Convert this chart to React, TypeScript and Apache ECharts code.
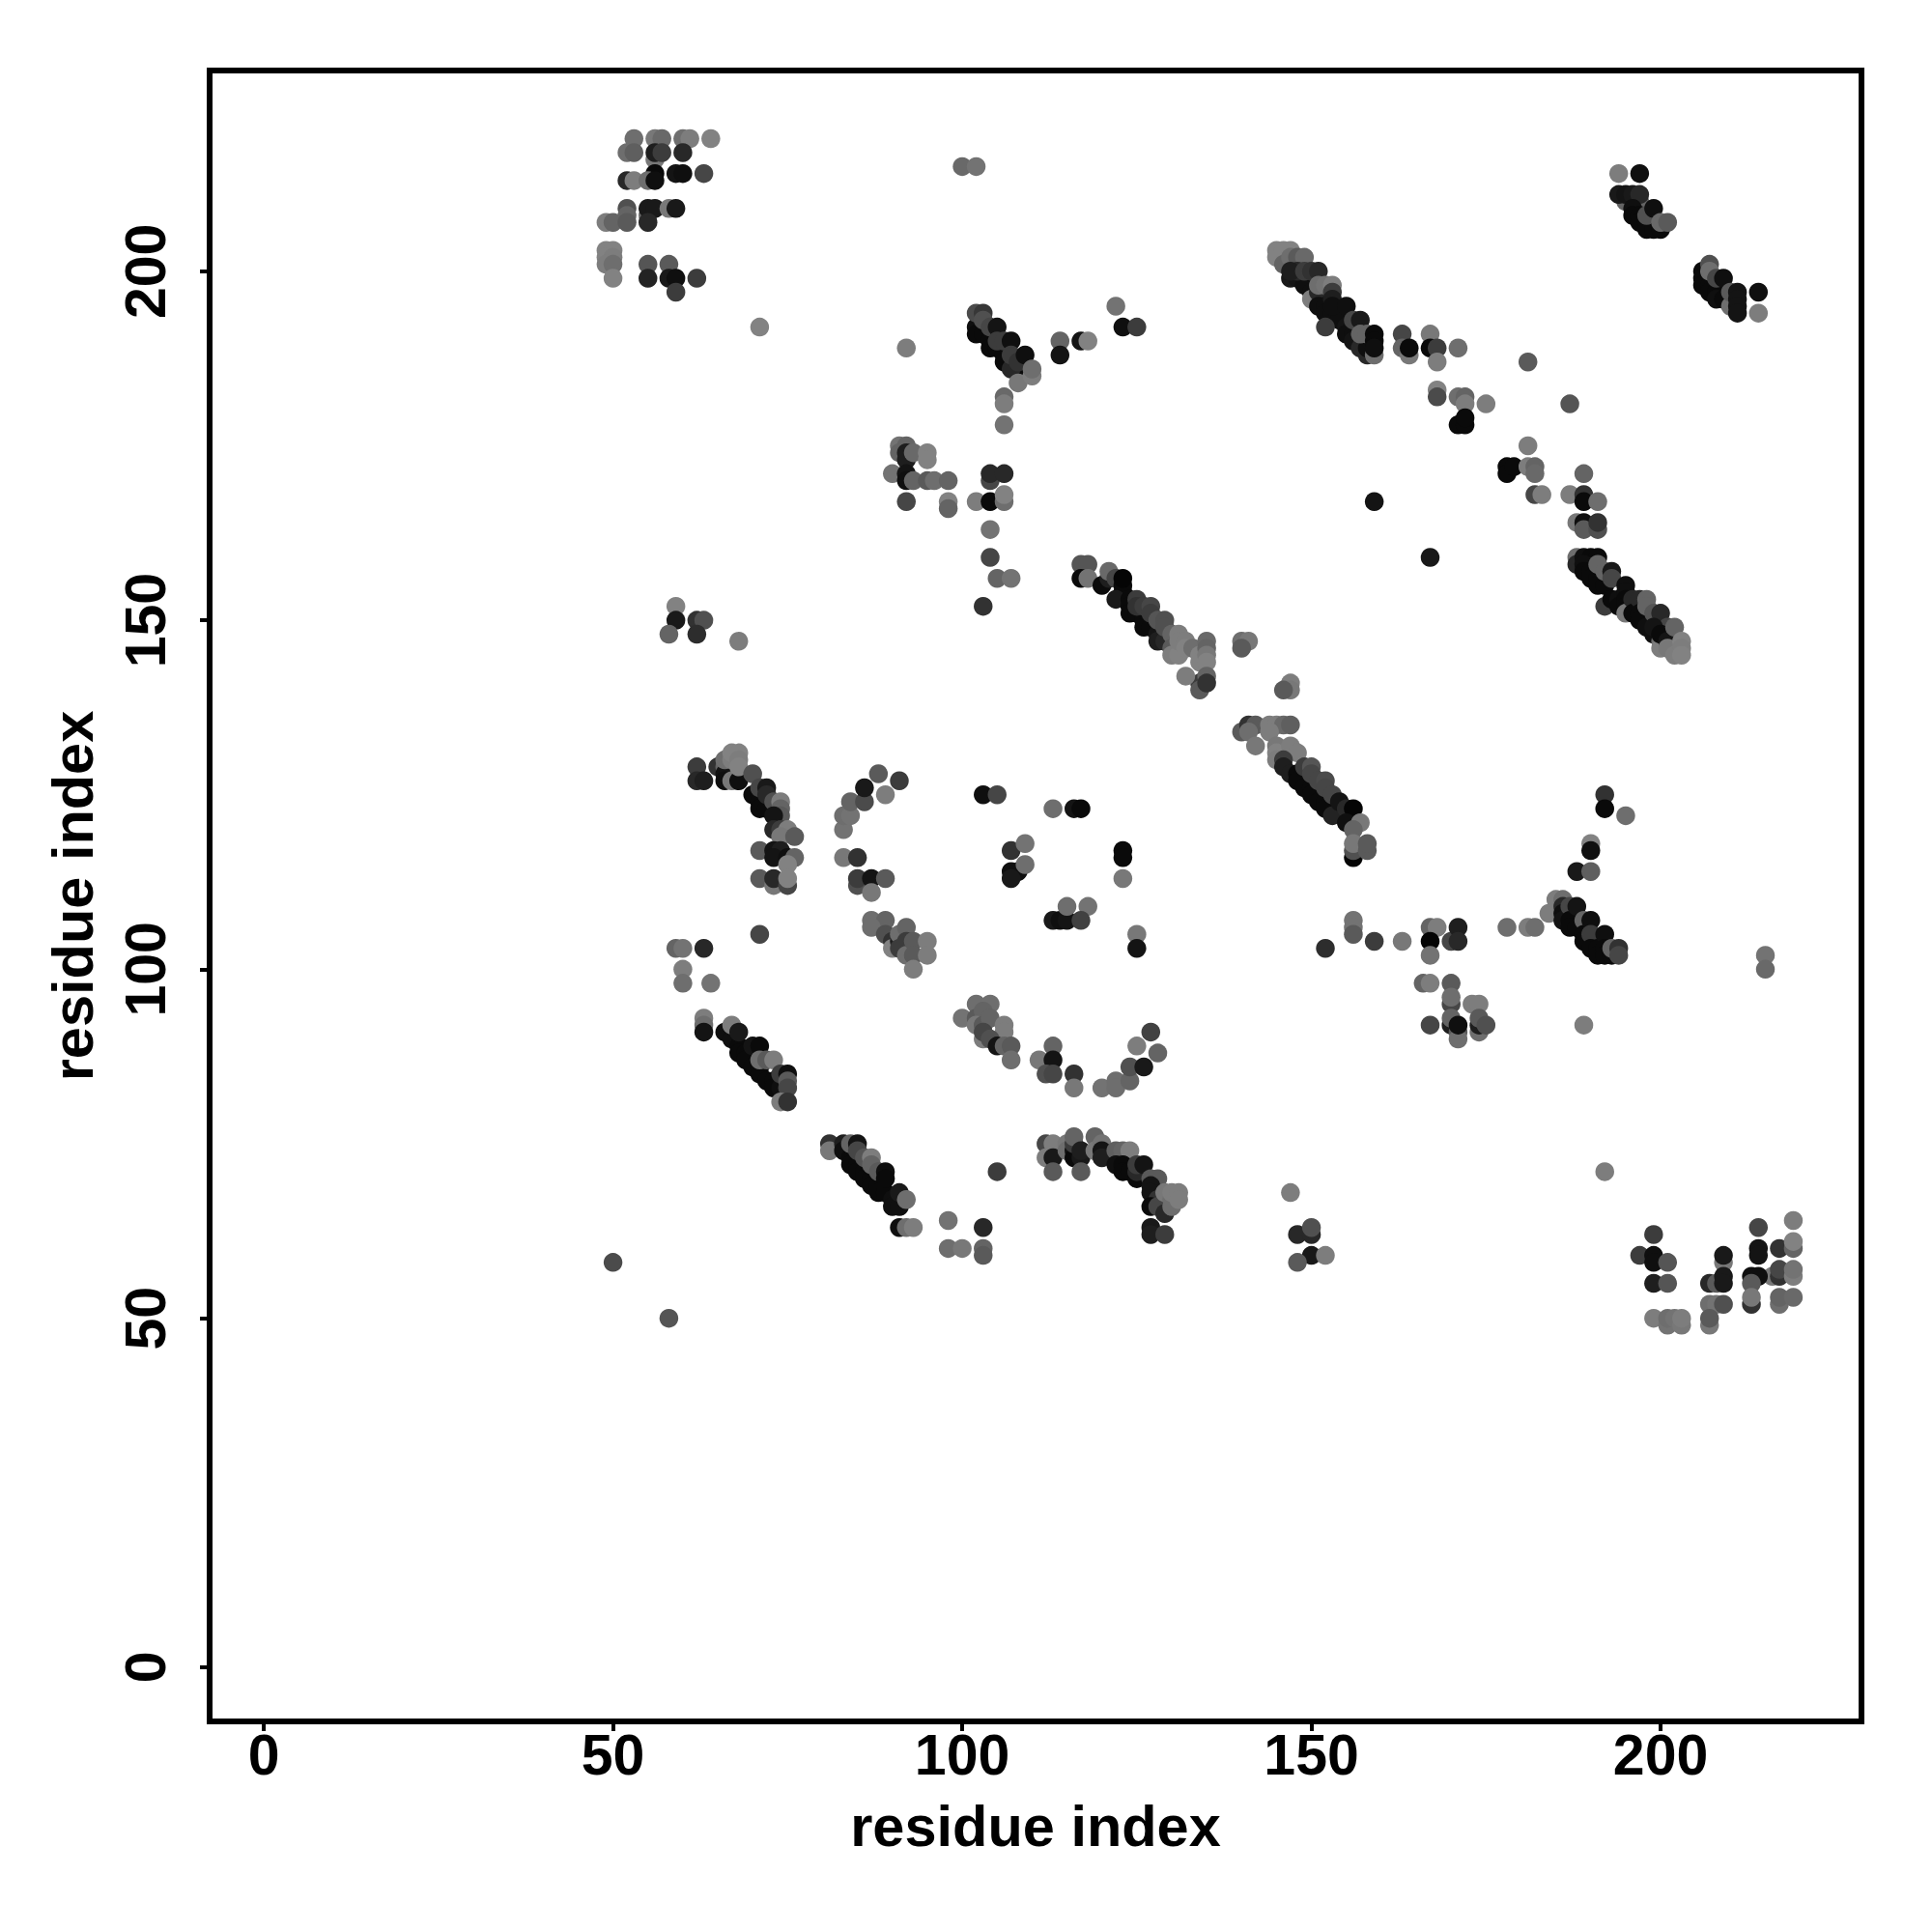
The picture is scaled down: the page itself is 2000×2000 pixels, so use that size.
import React, { useEffect, useRef } from "react";
import * as echarts from "echarts";

type P = [number, number, number]; // residue i, residue j, grey level

const tickValues = [0, 50, 100, 150, 200];
const axisTitle = "residue index";

const topLeft: P[] = [
  [53,219,110],[56,219,120],[57,219,105],[60,219,110],[61,219,125],[64,219,130],
  [52,217,110],[53,217,95],[56,216,120],[56,217,30],[57,217,60],[60,217,40],
  [56,214,10],[59,214,20],[60,214,15],[63,214,70],[52,213,40],[53,213,125],[55,213,110],[56,213,15],
  [52,209,80],[52,208,100],[55,208,110],[55,209,25],[56,209,25],[58,209,120],[59,209,25],
  [49,207,125],[50,207,100],[52,207,90],[55,207,40],[49,203,130],[50,203,130],[49,202,130],[50,202,125],
  [49,201,125],[50,201,110],[55,201,85],[58,201,90],[50,199,130],[55,199,35],[58,199,25],[59,199,15],[62,199,60],[59,197,60],
  [71,192,130],[92,189,125],
];
const block100x190: P[] = [
  [100,215,105],[102,215,115],
  [102,192,15],[102,191,10],[103,191,10],[104,190,10],[104,189,10],[105,189,10],[106,188,10],[106,187,10],[107,187,10],[108,186,10],[107,186,40],
  [102,194,75],[103,194,55],[103,193,80],[104,192,70],[105,192,20],[105,190,60],[106,190,60],[107,190,15],[107,188,60],[108,187,50],[109,188,15],
  [108,184,120],[110,185,125],[110,186,110],
  [106,182,105],[106,181,125],[106,178,115],[114,190,100],[114,188,20],[117,190,20],[118,190,130],[122,195,115],[123,192,15],[125,192,60],
];
const block95x170: P[] = [
  [91,175,115],[92,175,100],[91,174,100],[92,174,30],[92,173,30],[93,174,105],[95,174,130],[95,173,130],
  [90,171,115],[92,171,20],[92,170,15],[93,170,100],[95,170,90],[96,170,110],[98,170,100],
  [92,167,70],[98,167,130],[98,166,100],[102,167,125],[104,167,10],[106,167,110],[106,168,130],
  [104,170,70],[104,171,40],[106,171,40],
  [104,163,115],[104,159,70],[105,156,100],[107,156,115],[103,152,50],
];
const band145: P[] = [
  [147,199,25],[148,199,20],[149,198,15],[150,197,15],[150,196,125],[151,197,40],[151,195,15],[152,195,15],[152,194,15],[153,194,15],[154,193,15],[155,192,20],[155,191,15],[156,191,15],[156,190,20],[157,189,40],[158,188,40],[158,189,15],
  [145,203,130],[145,202,130],[146,203,130],[147,203,130],[146,201,100],[147,202,110],[148,202,90],[149,202,105],
  [148,200,40],[147,200,30],[149,200,60],[150,200,50],[151,200,40],[151,198,110],[152,198,115],[153,198,125],[153,197,60],[153,196,30],[153,195,15],[155,195,15],
  [152,192,60],[156,193,70],[157,193,25],[157,191,100],[158,191,100],[159,188,110],[159,191,10],[159,190,10],[159,189,15],
  [163,191,70],[163,189,100],[164,188,120],[164,189,10],[167,191,120],[167,189,10],[168,189,60],[168,187,125],[171,189,110],
  [168,183,130],[168,182,75],[171,182,110],[172,182,100],[172,181,125],[175,181,125],[171,178,10],[172,178,10],[172,179,10],[159,167,20],
];
const scatter180: P[] = [
  [178,172,10],[178,171,10],[179,172,10],[181,187,90],[187,181,85],[181,175,125],[181,172,125],[182,172,100],[182,171,105],
  [182,168,70],[183,168,125],[187,168,125],[189,171,100],[189,168,50],[189,167,10],[191,167,110],
];
const bandTopRight: P[] = [
  [194,214,125],[197,214,15],[195,210,100],[197,210,100],[194,211,25],[195,211,20],[196,211,25],[197,211,40],
  [196,209,15],[196,208,10],[197,208,10],[197,207,10],[198,207,10],[198,206,10],[199,206,10],[200,206,10],[198,208,80],[199,209,15],[200,207,105],[201,207,90],
  [206,200,10],[206,199,10],[206,198,10],[207,198,10],[207,197,10],[208,197,10],[208,196,15],[209,196,10],[210,195,110],[207,201,80],[207,200,110],[208,199,70],[209,199,15],[210,197,90],
  [211,197,20],[211,196,20],[211,195,20],[211,194,20],[214,197,15],[214,194,125],
];
const block60x150: P[] = [
  [59,152,130],[59,150,25],[62,150,50],[63,150,80],[58,148,100],[62,148,45],[68,147,125],
];
const arc70x125: P[] = [
  [62,129,60],[62,127,40],[63,127,30],[65,129,50],[66,129,100],[66,128,20],[66,127,15],[67,127,120],[68,127,15],
  [66,130,110],[67,130,125],[67,131,130],[68,131,130],[68,130,125],[68,129,130],[70,128,80],
  [70,125,10],[71,125,10],[71,124,10],[71,123,10],[72,123,10],[71,126,70],[72,126,25],[72,125,40],[73,124,80],[74,124,125],[74,123,100],[74,122,90],[73,122,20],
  [73,120,40],[74,120,60],[75,120,125],[74,119,120],[76,119,90],
  [71,117,90],[73,117,20],[74,117,30],[73,116,20],[75,116,15],[76,116,100],[75,115,130],[71,113,90],[73,112,120],[73,113,40],[75,112,70],[75,113,130],
];
const arc85x120: P[] = [
  [83,120,115],[83,122,110],[84,122,115],[84,124,100],[86,124,75],[86,126,25],[88,128,90],[89,125,125],[91,127,60],
  [83,116,120],[85,116,50],[85,112,80],[85,113,60],[87,113,20],[87,111,120],[89,113,90],
];
const band90x105: P[] = [
  [87,107,110],[89,107,100],[87,106,110],[89,105,80],[90,104,50],[90,103,130],[91,104,30],[91,105,110],[91,103,60],[92,106,100],[92,104,60],[92,102,110],[93,104,90],[93,102,90],[95,104,125],[95,102,125],[93,100,125],
];
const center: P[] = [
  [103,125,15],[105,125,70],[107,117,50],[109,118,115],[107,114,15],[108,114,15],[107,113,25],[109,115,110],
  [113,123,110],[116,123,20],[117,123,10],[113,107,25],[114,107,15],[115,107,20],[115,109,110],[118,109,115],[117,107,65],[123,117,10],[123,116,10],[123,113,120],
  [125,105,120],[125,103,20],
];
const band120x150: P[] = [
  [117,158,85],[118,158,85],[117,156,10],[118,156,115],[120,155,10],[121,156,30],[121,157,105],[122,156,70],[123,155,10],[123,154,10],[122,153,25],[123,156,5],
  [124,153,10],[124,152,10],[124,151,10],[125,151,10],[126,150,10],[126,149,10],[127,149,10],[128,148,20],[128,147,30],[129,147,40],
  [125,153,60],[125,152,50],[126,152,60],[127,152,70],[127,151,60],[128,150,85],[129,150,80],[129,149,80],[130,148,100],[131,148,125],[130,146,90],[130,145,125],[131,145,130],[131,147,125],[132,147,125],[132,146,130],
  [133,146,110],[134,145,130],[134,144,130],[134,141,60],[134,140,90],[132,142,125],
  [135,147,105],[135,146,100],[135,145,120],[135,144,130],[135,142,100],[135,141,50],
  [140,147,110],[141,147,120],[140,146,90],[147,141,125],[147,140,120],[146,140,90],
];
const band145x130: P[] = [
  [140,134,90],[141,135,50],[142,135,90],[141,134,110],[142,132,120],[144,135,125],[145,135,125],[146,135,105],[147,135,95],[144,134,125],
  [145,132,120],[145,131,130],[145,130,125],[147,132,125],[148,131,125],[146,130,60],[146,129,30],[147,128,30],[148,128,10],[148,127,10],[149,126,10],[150,126,10],[150,125,10],[151,124,10],[152,124,10],[152,123,10],[153,122,35],
  [149,129,60],[150,129,85],[150,128,70],[151,127,70],[152,127,75],[152,126,70],[153,125,70],[154,124,20],[155,123,40],[156,123,5],[155,121,15],[157,121,120],[156,120,100],[156,116,5],[156,117,80],[156,118,120],[158,117,90],[158,118,90],
  [156,107,115],[167,159,25],
];
const band190x155: P[] = [
  [188,164,120],[189,164,15],[189,163,90],[191,163,80],[191,164,50],[188,159,110],[188,158,40],[189,159,15],[190,159,10],[191,159,10],[189,158,15],[189,157,10],[190,157,10],[190,156,10],[191,156,10],[191,155,10],[192,155,10],
  [191,158,100],[192,157,100],[193,157,25],[193,156,70],[192,152,60],[193,153,10],[194,153,15],[194,152,10],[195,155,15],[195,154,15],[195,153,10],[195,152,10],[195,151,120],[196,153,40],[196,151,10],[197,153,40],[197,151,10],[197,150,10],[198,149,15],[199,148,15],[198,153,100],[198,152,100],[199,151,85],[200,151,40],
  [200,147,110],[200,146,125],[201,149,70],[199,149,20],[200,148,10],[201,147,20],[201,146,120],[202,149,100],[202,145,125],[203,147,130],[203,146,125],[203,145,130],
  [192,125,50],[192,123,10],[195,122,110],[190,118,130],[190,117,15],[188,114,25],[190,114,95],
];
const band105x90: P[] = [
  [100,93,115],[102,95,110],[104,95,110],[102,93,90],[103,94,100],[102,92,120],[103,92,90],[104,93,100],[106,92,125],[106,91,125],[103,90,125],[103,91,70],[104,90,80],[105,89,20],[106,89,100],[107,89,90],[107,87,110],
  [111,87,120],[113,89,100],[113,87,20],[112,85,80],[113,85,70],[116,85,50],[116,83,120],[120,83,115],[122,84,110],[122,83,110],[124,84,100],[124,86,80],[126,86,25],[125,89,125],[128,88,100],[127,91,65],
];
const band65x90: P[] = [
  [59,103,100],[60,103,115],[63,103,40],[60,100,125],[60,98,110],[64,98,115],[63,93,125],[63,92,110],[63,91,20],[71,105,70],
  [66,91,15],[67,90,15],[68,89,10],[68,88,10],[69,88,10],[69,87,10],[70,86,10],[71,86,10],[71,85,10],[72,84,10],[73,84,10],[73,83,10],[74,83,15],
  [67,92,125],[68,91,25],[70,89,20],[71,89,10],[71,87,110],[72,87,90],[73,87,125],[74,85,60],[75,85,15],[75,84,90],[75,83,70],[74,81,125],[75,81,50],[50,58,75],[58,50,85],
];
const band85x70: P[] = [
  [81,75,50],[81,74,120],[83,75,30],[83,74,15],[84,73,10],[84,72,10],[85,72,10],[85,71,10],[86,71,10],[86,70,10],[87,70,10],[87,69,10],[88,69,10],[88,68,10],[89,68,10],[90,67,15],[90,66,15],[91,66,15],
  [84,75,100],[85,75,20],[85,74,70],[86,73,85],[87,73,125],[87,72,100],[88,71,90],[89,71,15],[89,70,10],[91,68,25],[92,67,110],[91,63,15],[92,63,110],[93,63,125],
  [98,64,115],[103,63,40],[98,60,110],[100,60,120],[103,60,100],[103,59,90],[105,71,60],
];
const band120x70: P[] = [
  [112,75,70],[113,75,125],[112,73,125],[113,73,25],[113,71,90],[115,75,120],[115,74,110],[116,74,20],[116,73,10],[116,75,60],[116,76,100],[117,73,25],[117,74,30],[117,71,90],
  [119,76,100],[119,74,120],[120,75,115],[120,74,20],[120,73,30],[122,74,95],[123,74,100],[124,74,125],[122,72,15],[123,72,10],[123,71,10],[124,71,10],[125,70,10],[125,71,40],[125,72,60],[126,72,20],
  [127,70,90],[128,70,90],[127,69,20],[127,68,20],[128,67,50],[127,66,10],[128,66,70],[129,65,40],[129,68,120],[130,67,110],[130,66,110],[130,68,125],[131,68,125],[131,67,125],
  [127,63,25],[127,62,30],[129,62,60],
];
const scatter165x100: P[] = [
  [152,103,45],[156,106,115],[156,105,90],[159,104,60],[163,104,120],[167,106,100],[168,106,125],[167,104,5],[167,102,115],[170,104,70],[171,106,30],[171,104,40],[178,106,110],
  [166,98,100],[167,98,125],[170,98,90],[170,95,70],[170,96,110],[170,92,30],[170,93,100],[167,92,70],[171,91,90],[171,90,110],[171,92,15],[173,95,125],[174,95,125],[174,91,110],[174,92,30],[174,93,90],[175,92,80],
  [147,68,125],[148,62,40],[150,62,40],[150,63,80],[150,59,25],[152,59,125],[148,58,90],
];
const band190x105: P[] = [
  [181,106,125],[182,106,110],[184,108,125],[185,110,125],[186,110,110],[186,109,40],[186,108,15],[186,107,20],[187,109,70],[187,107,10],[187,106,10],[188,109,20],[188,106,10],[189,107,100],[189,105,10],[189,104,10],[190,107,15],[190,105,60],[190,103,10],[191,103,10],[191,102,10],[192,105,15],[192,103,10],[192,102,10],[193,102,10],[193,103,100],[194,103,50],[194,102,70],
  [215,102,115],[215,100,105],[189,92,125],[192,71,125],
];
const bottomRight: P[] = [
  [199,62,60],[197,59,60],[199,59,15],[199,58,15],[201,58,85],[199,55,30],[201,55,85],[199,50,125],[201,49,115],[201,50,110],[202,50,115],[203,49,120],[203,50,125],
  [207,55,40],[208,55,90],[209,58,120],[209,59,25],[209,56,25],[209,55,25],[207,52,110],[208,52,115],[209,52,80],[207,49,120],[207,50,90],
  [214,63,70],[214,60,20],[214,59,20],[216,56,120],[213,56,15],[214,56,15],[213,55,90],[213,52,50],[213,53,120],[217,60,50],[217,56,50],[217,57,70],[217,52,110],[217,53,100],
  [219,64,125],[219,60,100],[219,61,130],[219,56,125],[219,57,115],[219,53,105],
];

const clusters: P[][] = [
  topLeft, block100x190, block95x170, band145, scatter180, bandTopRight, block60x150, arc70x125, arc85x120, band90x105,
  center, band120x150, band145x130, band190x155, band105x90, band65x90, band85x70, band120x70, scatter165x100, band190x105, bottomRight,
];

const FONT = "Liberation Sans";

export default function App() {
  const ref = useRef<HTMLDivElement>(null);
  useEffect(() => {
    const chart = echarts.init(ref.current!, undefined, { renderer: "svg", width: 2000, height: 2000 });
    const axisCommon = {
      type: "value" as const,
      min: -7.76,
      max: 228.76,
      splitLine: { show: false },
      axisLine: { show: false, onZero: false },
      name: axisTitle,
      nameLocation: "middle" as const,
      nameTextStyle: { fontFamily: FONT, fontWeight: "bold" as const, fontSize: 59.5, color: "#000" },
      axisTick: { show: true, length: 10, lineStyle: { color: "#000", width: 4 }, customValues: tickValues },
    };
    const labelCommon = {
      fontFamily: FONT,
      fontWeight: "bold" as const,
      fontSize: 59,
      color: "#000",
      customValues: tickValues,
      showMinLabel: true,
      showMaxLabel: true,
    };
    chart.setOption({
      animation: false,
      backgroundColor: "#fff",
      grid: { show: true, left: 217, top: 73, width: 1710, height: 1709, borderColor: "#000", borderWidth: 6, containLabel: false },
      xAxis: { ...axisCommon, nameGap: 78, axisLabel: { ...labelCommon, margin: 5 } },
      yAxis: { ...axisCommon, nameGap: 112, axisLabel: { ...labelCommon, rotate: 90, margin: 37 } },
      series: [
        {
          type: "scatter",
          symbol: "circle",
          symbolSize: 19.5,
          clip: false,
          data: clusters.flat(),
          encode: { x: 0, y: 1 },
          itemStyle: {
            opacity: 1,
            color: (p: any) => {
              const g = p.value[2];
              return `rgb(${g},${g},${g})`;
            },
          },
        },
      ],
    });
    return () => chart.dispose();
  }, []);
  return <div ref={ref} style={{ position: "absolute", left: 0, top: 0, width: 2000, height: 2000 }} />;
}
